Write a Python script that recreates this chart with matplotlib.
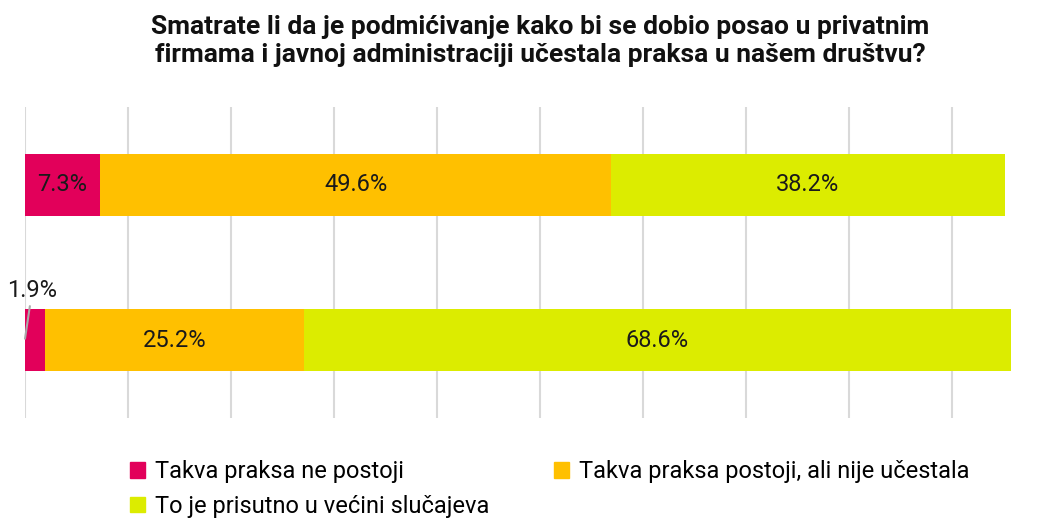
import matplotlib
matplotlib.use("Agg")
import matplotlib.pyplot as plt
from matplotlib.patches import Patch

title = ("Smatrate li da je podmićivanje kako bi se dobio posao u privatnim\n"
         "firmama i javnoj administraciji učestala praksa u našem društvu?")
categories = ["Takva praksa ne postoji", "Takva praksa postoji, ali nije učestala",
              "To je prisutno u većini slučajeva"]
rows = ["A", "B"]
ne_postoji = [7.3, 1.9]
postoji = [49.6, 25.2]
vecina = [38.2, 68.6]
colors = ["#E2005A", "#FFC000", "#DCEC00"]

plt.rcParams['font.family'] = ['Roboto', 'DejaVu Sans']

fig = plt.figure(figsize=(10.43, 5.19), dpi=100)
W, H = 1043, 519
ax = fig.add_axes([25 / W, 1 - 418 / H, (W - 25) / W, (418 - 107) / H])

series = [ne_postoji, postoji, vecina]
y = list(range(len(rows)))
left = [0.0] * len(rows)
for vals, col in zip(series, colors):
    ax.barh(y, vals, left=left, height=0.4, color=col, zorder=3)
    for i, v in enumerate(vals):
        cx = left[i] + v / 2
        if v >= 5:
            ax.text(cx, y[i], f"{v}%", ha="center", va="center", fontsize=17,
                    color="#1a1a1a", zorder=4)
        else:
            ax.annotate(f"{v}%", xy=(0, y[i] - 0.01), xytext=(0.7, y[i] - 0.32),
                        ha="center", va="center", fontsize=17, color="#1a1a1a",
                        arrowprops=dict(arrowstyle="-", color="#aaaaaa", lw=1.5,
                                        shrinkA=1, shrinkB=0), zorder=4)
    left = [l + v for l, v in zip(left, vals)]

ax.set_xlim(0, (W - 25) / 10.3)
ax.set_ylim(1.5, -0.5)
ax.set_xticks(range(0, 100, 10))
ax.grid(axis="x", color="#d9d9d9", lw=1.5, zorder=0)
ax.tick_params(left=False, bottom=False, labelleft=False, labelbottom=False)
for s in ax.spines.values():
    s.set_visible(False)

fig.text(540 / W, 1 - 41 / H, title, ha="center", va="center", fontsize=19,
         fontweight="bold", linespacing=1.2, color="#111111")

handles = [Patch(color=c) for c in colors]
order = [0, 2, 1]
fig.legend([handles[i] for i in order], [categories[i] for i in order],
           ncol=2, loc="upper left", bbox_to_anchor=(121 / W, 1 - 451 / H),
           frameon=False, fontsize=17, handlelength=0.62, handleheight=0.62,
           handletextpad=0.42, columnspacing=2.75, labelspacing=0.47,
           borderaxespad=0)

fig.savefig("out.png", dpi=100)
